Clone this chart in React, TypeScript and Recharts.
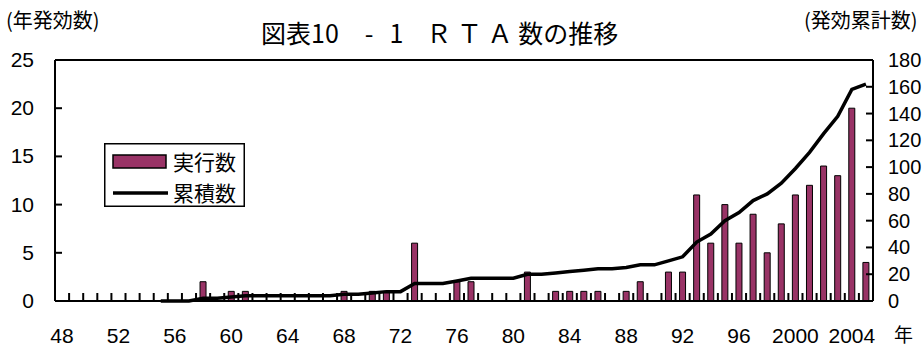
import { ComposedChart, Bar, Line, XAxis, YAxis, Legend, ReferenceLine } from 'recharts';

const JP = "'Noto Sans CJK JP', 'Noto Sans', sans-serif";
const NUM = "'Liberation Sans', Arial, sans-serif";

// categories: 1948 .. 2005
const YEARS = [
  '48', '49', '50', '51', '52', '53', '54', '55', '56', '57',
  '58', '59', '60', '61', '62', '63', '64', '65', '66', '67',
  '68', '69', '70', '71', '72', '73', '74', '75', '76', '77',
  '78', '79', '80', '81', '82', '83', '84', '85', '86', '87',
  '88', '89', '90', '91', '92', '93', '94', '95', '96', '97',
  '98', '99', '2000', '2001', '2002', '2003', '2004', '2005',
];

// 実行数 (annual)
const ANNUAL = [
  null, null, null, null, null, null, null, null, null, null,
  2, null, 1, 1, null, null, null, null, null, null,
  1, null, 1, 1, null, 6, null, null, 2, 2,
  null, null, null, 3, null, 1, 1, 1, 1, null,
  1, 2, null, 3, 3, 11, 6, 10, 6, 9,
  5, 8, 11, 12, 14, 13, 20, 4,
];

// 累積数 (cumulative)
const CUMULATIVE = [
  null, null, null, null, null, null, null, 0, 0, 0,
  2, 2, 3, 4, 4, 4, 4, 4, 4, 4,
  5, 5, 6, 7, 7, 13, 13, 13, 15, 17,
  17, 17, 17, 20, 20, 21, 22, 23, 24, 24,
  25, 27, 27, 30, 33, 44, 50, 60, 66, 75,
  80, 88, 99, 111, 125, 138, 158, 162,
];

const X_LABELS = ['48', '52', '56', '60', '64', '68', '72', '76', '80', '84', '88', '92', '96', '2000', '2004'];
const LEFT_TICKS = [0, 5, 10, 15, 20, 25];
const RIGHT_TICKS = [0, 20, 40, 60, 80, 100, 120, 140, 160, 180];

const data = YEARS.map((year, i) => ({ year, annual: ANNUAL[i], total: CUMULATIVE[i] }));

const W = 923;
const H = 347;
const LEFT_W = 55;
const RIGHT_W = 50;
const BAND = (W - LEFT_W - RIGHT_W) / YEARS.length;
const BAR_COLOR = '#993366';

function XTick(props: any) {
  const { x, y, payload } = props;
  const bx = x - BAND / 2;
  return (
    <g>
      {payload.index > 0 && <line x1={bx} y1={y} x2={bx} y2={y - 8} stroke="#000" strokeWidth={2} />}
      {X_LABELS.includes(payload.value) && (
        <text x={x} y={y + 42} textAnchor="middle" fontFamily={NUM} fontSize={21} fill="#000">
          {payload.value}
        </text>
      )}
    </g>
  );
}

function LeftTick(props: any) {
  const { x, y, payload } = props;
  return (
    <g>
      <line x1={x} y1={y} x2={x + 7} y2={y} stroke="#000" strokeWidth={2} />
      <text x={x - 21} y={y + 7} textAnchor="end" fontFamily={NUM} fontSize={21} fill="#000">
        {payload.value}
      </text>
    </g>
  );
}

function RightTick(props: any) {
  const { x, y, payload } = props;
  return (
    <g>
      <line x1={x} y1={y} x2={x - 7} y2={y} stroke="#000" strokeWidth={2} />
      <text x={x + 15} y={y + 7} textAnchor="start" fontFamily={NUM} fontSize={20} fill="#000">
        {payload.value}
      </text>
    </g>
  );
}

function LegendBox() {
  return (
    <svg width={141} height={64} style={{ display: 'block' }}>
      <rect x={0.75} y={0.75} width={139.5} height={62.5} fill="#fff" stroke="#000" strokeWidth={1.5} />
      <rect x={9} y={12} width={53} height={13} fill={BAR_COLOR} stroke="#000" strokeWidth={1.5} />
      <text x={69} y={27} fontFamily={JP} fontSize={21} fill="#000">実行数</text>
      <line x1={9} y1={50} x2={64} y2={50} stroke="#000" strokeWidth={3.5} />
      <text x={69} y={58} fontFamily={JP} fontSize={21} fill="#000">累積数</text>
    </svg>
  );
}

export default function App() {
  return (
    <div style={{ position: 'relative', width: W, height: H, background: '#fff' }}>
      <style>{'body{margin:0}'}</style>
      <div style={{ position: 'absolute', left: 6, top: 5, fontFamily: JP, fontSize: 20, whiteSpace: 'pre' }}>(年発効数)</div>
      <div style={{ position: 'absolute', left: 804, top: 5, fontFamily: JP, fontSize: 20, whiteSpace: 'pre' }}>(発効累計数)</div>
      <div style={{ position: 'absolute', left: 261, top: 14, fontFamily: JP, fontSize: 25, whiteSpace: 'pre' }}>
        図表10
        <span style={{ marginLeft: 26 }}>-</span>
        <span style={{ marginLeft: 16 }}>1</span>
        <span style={{ marginLeft: 23 }}>Ｒ Ｔ Ａ 数の推移</span>
      </div>
      <div style={{ position: 'absolute', left: 894, top: 324, fontFamily: JP, fontSize: 19, lineHeight: '20px' }}>年</div>
      <ComposedChart width={W} height={H} data={data} margin={{ top: 60, right: 0, bottom: 0, left: 0 }}>
        <XAxis
          dataKey="year"
          interval={0}
          height={46}
          tickSize={0}
          tickMargin={0}
          tickLine={false}
          axisLine={{ stroke: '#000', strokeWidth: 2 }}
          tick={<XTick />}
        />
        <YAxis
          yAxisId="left"
          domain={[0, 25]}
          ticks={LEFT_TICKS}
          width={LEFT_W}
          tickSize={0}
          tickMargin={0}
          tickLine={false}
          axisLine={{ stroke: '#000', strokeWidth: 2 }}
          tick={<LeftTick />}
        />
        <YAxis
          yAxisId="right"
          orientation="right"
          domain={[0, 180]}
          ticks={RIGHT_TICKS}
          width={RIGHT_W}
          tickSize={0}
          tickMargin={0}
          tickLine={false}
          axisLine={{ stroke: '#000', strokeWidth: 2 }}
          tick={<RightTick />}
        />
        <ReferenceLine yAxisId="left" y={25} stroke="#000" strokeWidth={2} />
        <Legend
          layout="horizontal"
          verticalAlign="middle"
          align="center"
          content={<LegendBox />}
          wrapperStyle={{ left: 104, top: 143, width: 141, height: 64 }}
        />
        <Bar
          yAxisId="left"
          dataKey="annual"
          name="実行数"
          barSize={6}
          fill={BAR_COLOR}
          stroke="#000"
          strokeWidth={1}
          isAnimationActive={false}
        />
        <Line
          yAxisId="right"
          dataKey="total"
          name="累積数"
          type="linear"
          stroke="#000"
          strokeWidth={3.5}
          dot={false}
          isAnimationActive={false}
        />
      </ComposedChart>
    </div>
  );
}
